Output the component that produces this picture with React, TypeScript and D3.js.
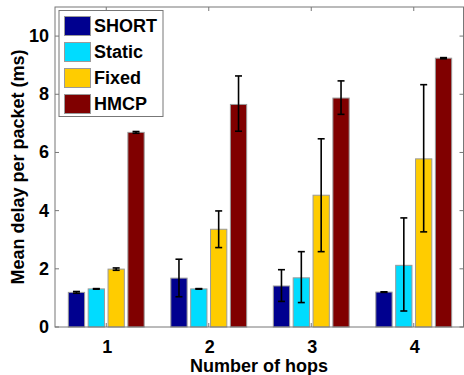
import React from "react";
import * as d3 from "d3";

const categories = ["1", "2", "3", "4"];
const seriesNames = ["SHORT", "Static", "Fixed", "HMCP"];
const colors = ["#00008f", "#00dcff", "#ffcc00", "#800000"];
const shortVals = [1.19, 1.68, 1.41, 1.2];
const staticVals = [1.31, 1.31, 1.69, 2.12];
const fixedVals = [1.99, 3.36, 4.53, 5.78];
const hmcpVals = [6.69, 7.65, 7.87, 9.24];
const shortErrLo = [1.16, 1.04, 0.88, 1.19];
const shortErrHi = [1.22, 2.33, 1.97, 1.21];
const staticErrLo = [1.3, 1.3, 0.84, 0.55];
const staticErrHi = [1.32, 1.32, 2.59, 3.75];
const fixedErrLo = [1.95, 2.73, 2.59, 3.27];
const fixedErrHi = [2.03, 3.99, 6.47, 8.33];
const hmcpErrLo = [6.66, 6.73, 7.31, 9.22];
const hmcpErrHi = [6.72, 8.63, 8.46, 9.26];
const yTicks = [0, 2, 4, 6, 8, 10];

const values = [shortVals, staticVals, fixedVals, hmcpVals];
const errLo = [shortErrLo, staticErrLo, fixedErrLo, hmcpErrLo];
const errHi = [shortErrHi, staticErrHi, fixedErrHi, hmcpErrHi];

export default function App() {
  const W = 464, H = 375;
  const left = 55, right = 465, top = 7, bottom = 327;
  const x = d3.scaleLinear().domain([0.5, 4.5]).range([left, right]);
  const y = d3.scaleLinear().domain([0, 11]).range([bottom, top]);
  const catW = x(2) - x(1);
  const inner = d3.scaleBand().domain(seriesNames).range([-catW * 0.37, catW * 0.37]).paddingInner(0.18);
  const bw = inner.bandwidth();
  const font = "Liberation Sans, Arial, sans-serif";
  const axisColor = "#777";
  return (
    <svg width={W} height={H} style={{ position: "absolute", left: 0, top: 0 }}>
      <rect x={0} y={0} width={W} height={H} fill="#fff" />
      {seriesNames.map((s, si) =>
        categories.map((c, ci) => {
          const cx = x(ci + 1) + (inner(s) as number);
          return (
            <rect key={s + c} x={cx} y={y(values[si][ci])} width={bw}
              height={y(0) - y(values[si][ci])} fill={colors[si]} stroke="#9a9a9a" strokeWidth={1} />
          );
        })
      )}
      {seriesNames.map((s, si) =>
        categories.map((c, ci) => {
          const mx = x(ci + 1) + (inner(s) as number) + bw / 2;
          const y1 = y(errHi[si][ci]), y2 = y(errLo[si][ci]);
          return (
            <g key={"e" + s + c} stroke="#000" strokeWidth={1.6}>
              <line x1={mx} x2={mx} y1={y1} y2={y2} />
              <line x1={mx - 3.5} x2={mx + 3.5} y1={y1} y2={y1} />
              <line x1={mx - 3.5} x2={mx + 3.5} y1={y2} y2={y2} />
            </g>
          );
        })
      )}
      <rect x={left} y={top} width={right - left - 1.5} height={bottom - top} fill="none" stroke={axisColor} strokeWidth={1} />
      {yTicks.map((t) => (
        <g key={"y" + t}>
          <line x1={left} x2={left + 4} y1={y(t)} y2={y(t)} stroke={axisColor} />
          <line x1={right - 1.5} x2={right - 5.5} y1={y(t)} y2={y(t)} stroke={axisColor} />
          <text x={left - 6} y={y(t)} textAnchor="end" dominantBaseline="central"
            fontFamily={font} fontWeight="bold" fontSize={18}>{t}</text>
        </g>
      ))}
      {categories.map((c, ci) => (
        <g key={"x" + c}>
          <line x1={x(ci + 1)} x2={x(ci + 1)} y1={bottom} y2={bottom - 4} stroke={axisColor} />
          <line x1={x(ci + 1)} x2={x(ci + 1)} y1={top} y2={top + 4} stroke={axisColor} />
          <text x={x(ci + 1) + 1} y={bottom + 26} textAnchor="middle"
            fontFamily={font} fontWeight="bold" fontSize={18}>{c}</text>
        </g>
      ))}
      <text x={259} y={372} textAnchor="middle" fontFamily={font} fontWeight="bold" fontSize={18}>Number of hops</text>
      <text transform={`translate(24, ${(top + bottom) / 2}) rotate(-90)`} textAnchor="middle"
        fontFamily={font} fontWeight="bold" fontSize={18}>Mean delay per packet (ms)</text>
      <rect x={59} y={10.5} width={104} height={106} fill="#fff" stroke={axisColor} strokeWidth={1} />
      {seriesNames.map((s, si) => (
        <g key={"l" + s}>
          <rect x={64.5} y={16.5 + si * 26} width={26} height={19} fill={colors[si]} stroke="#9a9a9a" />
          <text x={94} y={26 + si * 26} dominantBaseline="central" fontFamily={font} fontWeight="bold" fontSize={18}>{s}</text>
        </g>
      ))}
    </svg>
  );
}
